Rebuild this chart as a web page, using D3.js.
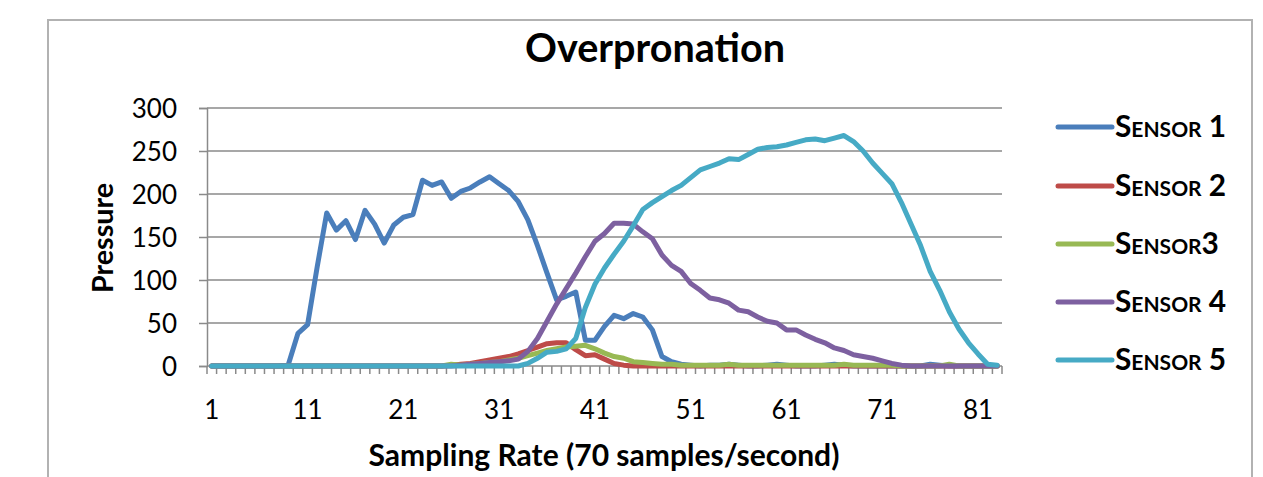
<!DOCTYPE html>
<html>
<head>
<meta charset="utf-8">
<script src="https://cdn.jsdelivr.net/npm/d3@7"></script>
<style>
  body { margin: 0; background: #fff; }
  text { font-family: Lato, "Open Sans", sans-serif; fill: #000; }
</style>
</head>
<body>
<script>
// sample index along the x axis
const categories = d3.range(1, 84);
const tickLabels = [1, 11, 21, 31, 41, 51, 61, 71, 81];
const yTicks = [0, 50, 100, 150, 200, 250, 300];

// pressure readings, one per sample
const sensor1 = [0,0,0,0,0,0,0,0,2,38,
  48,115,178,158,169,147,181,165,143,164,
  173,176,216,210,214,195,203,207,214,220,
  212,204,191,170,140,108,77,81,86,30,
  30,46,59,55,61,57,42,11,5,2,
  1,0,1,1,2,1,0,0,1,2,
  1,0,0,0,1,2,1,0,0,0,
  0,0,0,0,0,2,1,0,0,0,
  0,0,0];
const sensor2 = [0,0,0,0,0,0,0,0,0,0,
  0,0,0,0,0,0,0,0,0,0,
  0,0,0,0,0,1,2,3,5,7,
  9,11,14,18,22,26,27,27,19,12,
  13,8,3,1,0,0,0,0,0,0,
  0,0,0,0,0,0,0,0,0,0,
  0,0,0,0,0,0,0,0,0,0,
  0,0,0,0,0,0,0,0,0,0,
  0,0,0];
const sensor3 = [0,0,0,0,0,0,0,0,0,0,
  0,0,0,0,0,0,0,0,0,0,
  0,0,0,0,0,2,1,2,3,4,
  5,7,9,12,15,18,20,22,23,24,
  20,15,11,9,5,4,3,2,2,1,
  1,1,1,1,2,1,1,1,1,1,
  1,1,1,1,1,1,2,1,1,1,
  1,1,0,0,0,0,0,2,0,0,
  0,0,0];
const sensor4 = [0,0,0,0,0,0,0,0,0,0,
  0,0,0,0,0,0,0,0,0,0,
  0,0,0,0,0,0,1,2,3,4,
  5,6,8,17,32,52,72,90,108,127,
  145,154,166,166,165,156,148,129,117,110,
  96,88,79,77,73,65,63,57,52,50,
  42,42,36,31,27,21,18,13,11,9,
  6,3,1,0,0,0,0,0,0,0,
  0,0,0];
const sensor5 = [0,0,0,0,0,0,0,0,0,0,
  0,0,0,0,0,0,0,0,0,0,
  0,0,0,0,0,0,0,0,0,0,
  0,0,0,3,9,16,17,20,32,68,
  95,114,130,145,163,182,190,197,204,210,
  219,228,232,236,241,240,246,252,254,255,
  257,260,263,264,262,265,268,261,250,236,
  224,212,190,165,140,110,88,63,43,27,
  14,2,1];

const seriesNames = ["Sensor 1", "Sensor 2", "Sensor3", "Sensor 4", "Sensor 5"];
const seriesColors = ["#4a7ebb", "#be4b48", "#98b954", "#7d60a0", "#46aac5"];
const seriesValues = [sensor1, sensor2, sensor3, sensor4, sensor5];

const W = 1263, H = 477;
const plotLeft = 207, plotRight = 1002, plotTop = 108, plotBottom = 366;

const svg = d3.select("body").append("svg")
  .attr("width", W)
  .attr("height", H);

// chart frame
svg.append("rect")
  .attr("x", 48).attr("y", 20)
  .attr("width", 1204).attr("height", 480)
  .attr("fill", "none")
  .attr("stroke", "#b2b2b2")
  .attr("stroke-width", 2);

const x = d3.scaleBand().domain(categories).range([plotLeft, plotRight]);
const y = d3.scaleLinear().domain([0, 300]).range([plotBottom, plotTop]);
const cx = c => x(c) + x.bandwidth() / 2;

// shrink/grow a text so it spans a given width
function fit(sel, target) {
  const w = sel.node().getComputedTextLength();
  const fs = parseFloat(sel.attr("font-size"));
  sel.attr("font-size", fs * target / w);
}

// gridlines
svg.append("g")
  .selectAll("line")
  .data(yTicks.filter(d => d > 0))
  .join("line")
  .attr("x1", plotLeft).attr("x2", plotRight)
  .attr("y1", d => y(d)).attr("y2", d => y(d))
  .attr("stroke", "#8a8a8a")
  .attr("stroke-width", 1.5);

// y axis
const yAxis = svg.append("g")
  .attr("transform", `translate(${plotLeft},0)`)
  .call(d3.axisLeft(y).tickValues(yTicks).tickSize(8).tickPadding(22));
yAxis.select(".domain").attr("stroke", "#8a8a8a").attr("stroke-width", 1.5);
yAxis.selectAll(".tick line").attr("stroke", "#8a8a8a").attr("stroke-width", 1.5);
yAxis.selectAll(".tick text")
  .attr("font-size", 26)
  .attr("font-family", "Lato")
  .attr("dy", "0.36em");

// x axis: ticks on category boundaries, labels on category centres
const xg = svg.append("g").attr("transform", `translate(0,${plotBottom})`);
xg.selectAll("line.b")
  .data(categories.concat([null]))
  .join("line")
  .attr("class", "b")
  .attr("x1", d => d === null ? plotRight : x(d))
  .attr("x2", d => d === null ? plotRight : x(d))
  .attr("y1", 0).attr("y2", 8)
  .attr("stroke", "#8a8a8a")
  .attr("stroke-width", 1.5);
xg.append("line")
  .attr("x1", plotLeft).attr("x2", plotRight)
  .attr("stroke", "#8a8a8a").attr("stroke-width", 1.5);
xg.selectAll("text")
  .data(tickLabels)
  .join("text")
  .attr("x", d => cx(d))
  .attr("y", 53)
  .attr("text-anchor", "middle")
  .attr("font-size", 26)
  .text(d => d);

// lines
const line = d3.line()
  .x((d, i) => cx(categories[i]))
  .y(d => y(d));

svg.append("g")
  .selectAll("path")
  .data(seriesValues)
  .join("path")
  .attr("d", line)
  .attr("fill", "none")
  .attr("stroke", (d, i) => seriesColors[i])
  .attr("stroke-width", 5)
  .attr("stroke-linejoin", "round")
  .attr("stroke-linecap", "round");

// titles
const title = svg.append("text")
  .attr("x", 655).attr("y", 62)
  .attr("text-anchor", "middle")
  .attr("font-weight", "bold")
  .attr("font-size", 36)
  .text("Overpronation");
fit(title, 260);

const xTitle = svg.append("text")
  .attr("x", 604).attr("y", 466)
  .attr("text-anchor", "middle")
  .attr("font-weight", "bold")
  .attr("font-size", 24)
  .text("Sampling Rate (70 samples/second)");
fit(xTitle, 471);

const yTitle = svg.append("text")
  .attr("transform", "translate(113,238) rotate(-90)")
  .attr("text-anchor", "middle")
  .attr("font-weight", "bold")
  .attr("font-size", 24)
  .text("Pressure");
fit(yTitle, 110);

// legend
const rows = [127, 186, 244, 302, 360];
const legend = svg.append("g");
let legendSize = 26;
seriesNames.forEach((name, i) => {
  legend.append("line")
    .attr("x1", 1058).attr("x2", 1112)
    .attr("y1", rows[i]).attr("y2", rows[i])
    .attr("stroke", seriesColors[i])
    .attr("stroke-width", 5)
    .attr("stroke-linecap", "round");
  const t = legend.append("text")
    .attr("x", 1115).attr("y", rows[i] + 10)
    .attr("font-weight", "bold")
    .attr("font-size", legendSize)
    .style("font-variant", "small-caps")
    .text(name);
  if (i === 0) {
    fit(t, 110);
    legendSize = t.attr("font-size");
  }
});
</script>
</body>
</html>
